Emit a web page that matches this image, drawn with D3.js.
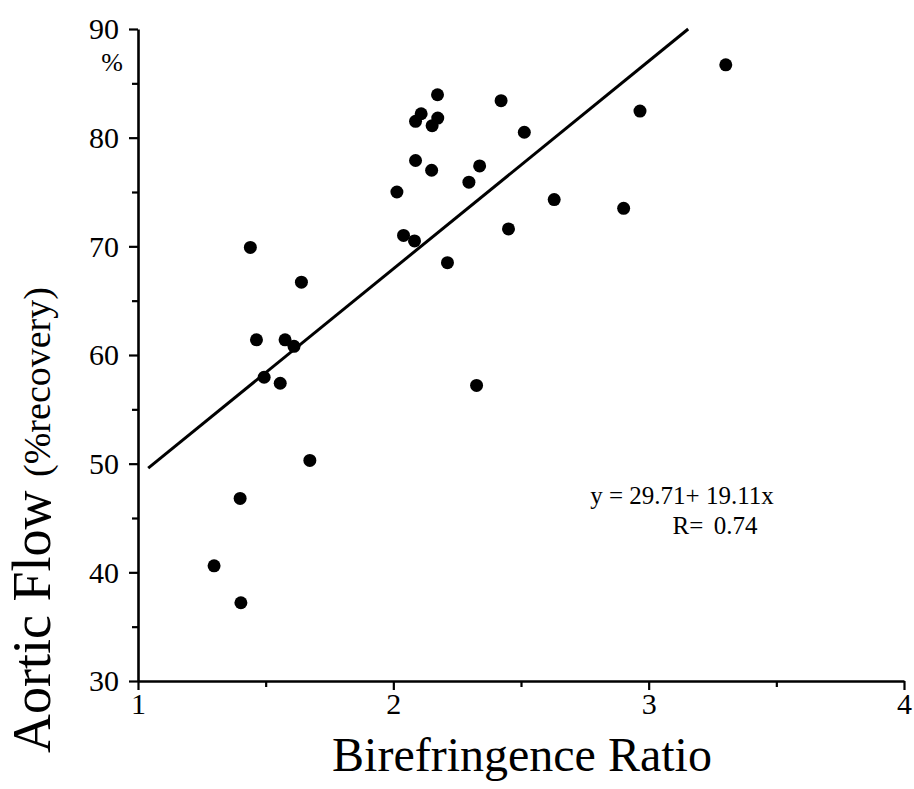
<!DOCTYPE html>
<html><head><meta charset="utf-8">
<script src="https://cdn.jsdelivr.net/npm/d3@7"></script>
<style>body{margin:0;background:#fff}svg{display:block}</style>
</head><body>
<svg id="c" width="914" height="789"></svg>
<script>
const birefringence = [1.44,1.640,1.464,1.576,1.611,1.494,1.557,1.673,1.400,1.298,1.403,
  2.173,2.109,2.087,2.174,2.152,2.422,2.513,2.087,2.150,2.338,2.296,2.014,2.630,2.451,2.040,2.083,2.212,2.326,
  3.302,2.966,2.902];
const aorticFlow = [69.9,66.7,61.4,61.4,60.8,57.95,57.4,50.3,46.8,40.6,37.2,
  83.95,82.2,81.5,81.8,81.1,83.4,80.5,77.9,77.0,77.4,75.9,75.0,74.3,71.6,71.0,70.5,68.5,57.2,
  86.7,82.45,73.5];
const xTicks = [1,2,3,4];
const xMinor = [1.5,2.5,3.5];
const yTicks = [30,40,50,60,70,80,90];
const yMinor = [35,45,55,65,75,85];
const fitIntercept = 29.71, fitSlope = 19.11;
const fitRange = [1.04, (90-29.71)/19.11];

const svg = d3.select("#c");
const font = "'Liberation Serif','Times New Roman',serif";
const x = d3.scaleLinear().domain([1,4]).range([138,904]);
const y = d3.scaleLinear().domain([30,90]).range([681,29]);

const gx = svg.append("g").attr("transform","translate(0,681)");
gx.call(d3.axisBottom(x).tickValues(xTicks).tickFormat(d3.format("d")).tickSize(9).tickSizeOuter(0));
gx.append("g").call(d3.axisBottom(x).tickValues(xMinor).tickFormat("").tickSize(6).tickSizeOuter(0)).select(".domain").remove();
const gy = svg.append("g").attr("transform","translate(138,0)");
gy.call(d3.axisLeft(y).tickValues(yTicks).tickFormat(d3.format("d")).tickSize(9).tickSizeOuter(0));
gy.append("g").call(d3.axisLeft(y).tickValues(yMinor).tickFormat("").tickSize(6).tickSizeOuter(0)).select(".domain").remove();
svg.selectAll(".domain").attr("stroke","#000").attr("stroke-width",2.6);
svg.selectAll(".tick line").attr("stroke","#000").attr("stroke-width",2.2);
gx.selectAll(".tick text").attr("font-family",font).attr("font-size",30).attr("fill","#000").attr("dy","0.8em").attr("y",9);
gy.selectAll(".tick text").attr("font-family",font).attr("font-size",30).attr("fill","#000").attr("x",-19).attr("dy","0.33em");

svg.append("text").attr("x",112).attr("y",71).attr("text-anchor","middle")
  .attr("font-family",font).attr("font-size",26).text("%");

svg.append("line")
  .attr("x1",x(fitRange[0])).attr("y1",y(fitIntercept+fitSlope*fitRange[0]))
  .attr("x2",x(fitRange[1])).attr("y2",y(fitIntercept+fitSlope*fitRange[1]))
  .attr("stroke","#000").attr("stroke-width",3);

svg.selectAll("circle.pt").data(birefringence).enter().append("circle")
  .attr("class","pt").attr("cx",d=>x(d)).attr("cy",(d,i)=>y(aorticFlow[i])).attr("r",6.5).attr("fill","#000");

svg.append("text").attr("x",682).attr("y",504).attr("text-anchor","middle")
  .attr("font-family",font).attr("font-size",25).text("y = 29.71+ 19.11x");
svg.append("text").attr("x",715).attr("y",534).attr("text-anchor","middle")
  .attr("font-family",font).attr("font-size",25).attr("word-spacing",4).text("R= 0.74");

svg.append("text").attr("x",522).attr("y",771).attr("text-anchor","middle")
  .attr("font-family",font).attr("font-size",48).text("Birefringence Ratio");

const yt = svg.append("text").attr("transform","translate(50,520) rotate(-90)").attr("text-anchor","middle")
  .attr("font-family",font);
yt.append("tspan").attr("font-size",54).text("Aortic Flow ");
yt.append("tspan").attr("font-size",38).text("(%recovery)");
</script>
</body></html>
